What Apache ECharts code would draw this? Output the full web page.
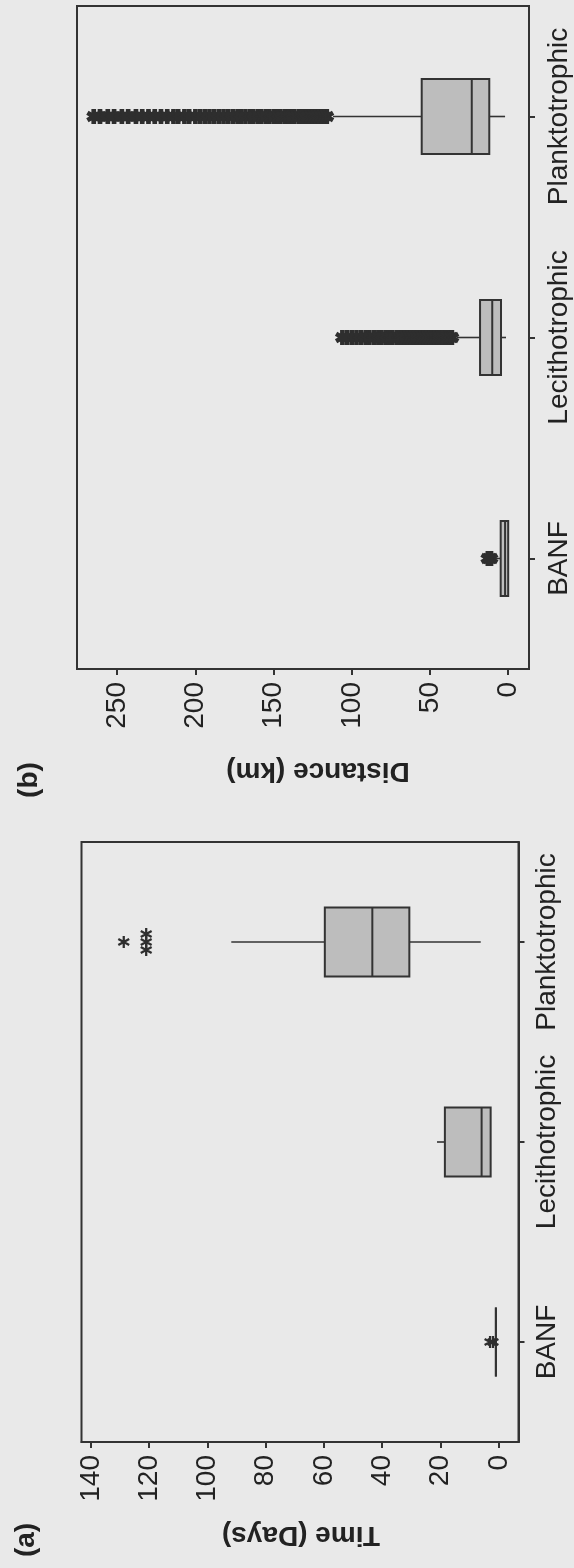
<!DOCTYPE html>
<html>
<head>
<meta charset="utf-8">
<script src="https://cdn.jsdelivr.net/npm/echarts@6/dist/echarts.min.js"></script>
<style>
html,body{margin:0;padding:0;background:#e9e9e9;}
#chart{width:574px;height:1568px;}
</style>
</head>
<body>
<div id="chart"></div>
<script>
// ---------- DATA ----------
const categories = ['BANF', 'Lecithotrophic', 'Planktotrophic'];

// Panel (a) Time (Days): [min, Q1, median, Q3, max] per category
const timeBANF = [1, 1, 1, 1, 1];
const timeLeci = [2.8, 2.8, 5.9, 18.5, 21.2];
const timePlank = [6.2, 30.7, 43.4, 59.7, 91.8];
const timeOutBANF = [2, 3];
const timeOutLeci = [];
const timeOutPlank = [128.7, 121, 121, 121];
const timeTicks = [0, 20, 40, 60, 80, 100, 120, 140];

// Panel (b) Distance (km): [min, Q1, median, Q3, max] per category
const distBANF = [0, 0, 2, 4.8, 9];
const distLeci = [1.4, 4.6, 10.2, 18.0, 33];
const distPlank = [2.0, 12.1, 23.3, 55.3, 112];
const distOutBANF = [11, 12, 13];
const distOutLeci = [36, 37, 39, 40, 42, 43, 45, 47, 48, 50, 52, 53, 55, 57, 59, 61, 63, 65, 67, 69, 71, 74, 76, 78, 81, 83, 86, 89, 91, 94, 97, 100, 103, 106];
const distOutPlank = [116, 118, 120, 122, 124, 126, 128, 130, 132, 134, 137, 139, 141, 143, 146, 148, 150, 153, 155, 158, 160, 163, 165, 168, 171, 173, 176, 179, 182, 185, 188, 191, 194, 197, 200, 204, 207, 211, 214, 218, 222, 226, 230, 234, 238, 243, 247, 252, 256, 261, 265];
const distTicks = [0, 50, 100, 150, 200, 250];

// ---------- RENDERING ----------
const INK = '#333333';
const FILL = '#bdbdbd';
const ASTERISK_BOLD = 'path://M-1.6,-5L1.6,-5L1.6,5L-1.6,5Z M3.53,-3.88L5.13,-1.12L-3.53,3.88L-5.13,1.12Z M-5.13,-1.12L-3.53,-3.88L5.13,1.12L3.53,3.88Z';
const ASTERISK_THIN = 'path://M-0.9,-5L0.9,-5L0.9,5L-0.9,5Z M3.88,-3.28L4.78,-1.72L-3.88,3.28L-4.78,1.72Z M-4.78,-1.72L-3.88,-3.28L4.78,1.72L3.88,3.28Z';

function boxData(list) {
  return list.map((b, i) => [i].concat(b));
}
function outlierData(lists, stackGap) {
  const out = [];
  lists.forEach((vals, ci) => {
    const counts = {};
    vals.forEach(v => { counts[v] = (counts[v] || 0) + 1; });
    const seen = {};
    vals.forEach(v => {
      const n = counts[v];
      const k = seen[v] = (seen[v] === undefined ? 0 : seen[v] + 1);
      const off = n > 1 ? (k - (n - 1) / 2) * stackGap : 0;
      out.push({ value: [v, ci], symbolOffset: [0, off] });
    });
  });
  return out;
}
function boxRender(boxW) {
  return function (params, api) {
    const cat = api.value(0);
    const xs = [1, 2, 3, 4, 5].map(d => api.coord([api.value(d), cat])[0]);
    const yc = api.coord([api.value(1), cat])[1];
    const h = boxW / 2;
    const lineStyle = { stroke: INK, lineWidth: 1.6 };
    return {
      type: 'group',
      children: [
        { type: 'line', shape: { x1: xs[0], y1: yc, x2: xs[1], y2: yc }, style: lineStyle },
        { type: 'line', shape: { x1: xs[3], y1: yc, x2: xs[4], y2: yc }, style: lineStyle },
        { type: 'rect', shape: { x: Math.min(xs[1], xs[3]), y: yc - h, width: Math.abs(xs[3] - xs[1]), height: boxW },
          style: { fill: FILL, stroke: INK, lineWidth: 2 } },
        { type: 'line', shape: { x1: xs[2], y1: yc - h, x2: xs[2], y2: yc + h }, style: { stroke: INK, lineWidth: 2 } }
      ]
    };
  };
}

const font = 'Liberation Sans, Arial, Helvetica, sans-serif';

function valueAxis(gi, min, max, ticks) {
  return {
    gridIndex: gi, type: 'value', position: 'bottom', inverse: true,
    min: min, max: max,
    splitLine: { show: false },
    axisLine: { show: true, onZero: false, lineStyle: { color: INK, width: 2 } },
    axisTick: { show: true, length: 6, customValues: ticks, lineStyle: { color: INK, width: 2 } },
    axisLabel: { show: true, customValues: ticks, rotate: 90, margin: 13, fontSize: 28, color: '#222', fontFamily: font }
  };
}
function catAxis(gi, margin) {
  return {
    gridIndex: gi, type: 'category', position: 'right', data: categories,
    axisLine: { show: true, onZero: false, lineStyle: { color: INK, width: 2 } },
    axisTick: { show: true, alignWithLabel: true, length: 6, lineStyle: { color: INK, width: 2 } },
    axisLabel: { show: true, interval: 0, hideOverlap: false, rotate: 90, margin: margin, fontSize: 28, color: '#222', fontFamily: font }
  };
}

const chart = echarts.init(document.getElementById('chart'), null, { renderer: 'canvas' });
chart.setOption({
  backgroundColor: '#e9e9e9',
  animation: false,
  grid: [
    { left: 77, width: 452, top: 6, height: 663, show: true, borderColor: INK, borderWidth: 2, backgroundColor: 'transparent' },
    { left: 81.5, width: 437, top: 842, height: 600, show: true, borderColor: INK, borderWidth: 2, backgroundColor: 'transparent' }
  ],
  xAxis: [
    valueAxis(0, -13.3, 275.7, distTicks),
    valueAxis(1, -6.76, 143.2, timeTicks)
  ],
  yAxis: [catAxis(0, 16), catAxis(1, 15)],
  graphic: [
    { type: 'text', x: 318, y: 771, rotation: Math.PI,
      style: { text: 'Distance (km)', font: 'bold 28px ' + font, fill: '#222', textAlign: 'center', textVerticalAlign: 'middle' } },
    { type: 'text', x: 301, y: 1535, rotation: Math.PI,
      style: { text: 'Time (Days)', font: 'bold 28px ' + font, fill: '#222', textAlign: 'center', textVerticalAlign: 'middle' } },
    { type: 'text', x: 29, y: 780, rotation: Math.PI / 2,
      style: { text: '(b)', font: 'bold 28px ' + font, fill: '#222', textAlign: 'center', textVerticalAlign: 'middle' } },
    { type: 'text', x: 26, y: 1540, rotation: Math.PI / 2,
      style: { text: '(a)', font: 'bold 28px ' + font, fill: '#222', textAlign: 'center', textVerticalAlign: 'middle' } }
  ],
  series: [
    { type: 'custom', xAxisIndex: 0, yAxisIndex: 0, z: 2,
      renderItem: boxRender(75), encode: { x: [1, 2, 3, 4, 5], y: 0 },
      data: boxData([distBANF, distLeci, distPlank]) },
    { type: 'scatter', xAxisIndex: 0, yAxisIndex: 0, z: 3, symbol: ASTERISK_BOLD, symbolSize: 15,
      itemStyle: { color: '#2e2e2e', opacity: 1 },
      data: outlierData([distOutBANF, distOutLeci, distOutPlank], 0) },
    { type: 'custom', xAxisIndex: 1, yAxisIndex: 1, z: 2,
      renderItem: boxRender(69), encode: { x: [1, 2, 3, 4, 5], y: 0 },
      data: boxData([timeBANF, timeLeci, timePlank]) },
    { type: 'scatter', xAxisIndex: 1, yAxisIndex: 1, z: 3, symbol: ASTERISK_THIN, symbolSize: 12,
      itemStyle: { color: '#2e2e2e', opacity: 1 },
      data: outlierData([timeOutBANF, timeOutLeci, timeOutPlank], 8) }
  ]
});
</script>
</body>
</html>
